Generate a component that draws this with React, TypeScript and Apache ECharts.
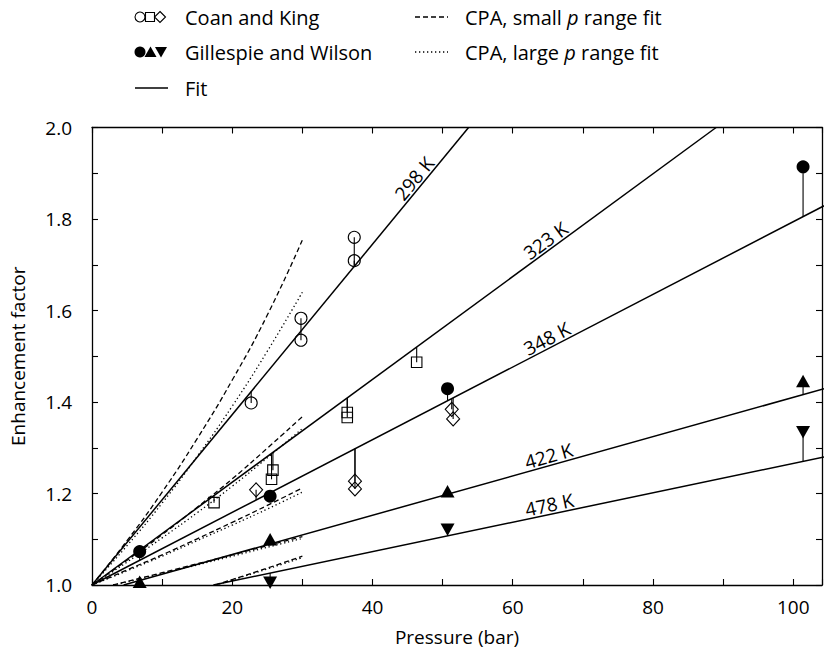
import React, { useEffect, useRef } from "react";
import * as echarts from "echarts";

// ---- Fit lines (solid) : [pressure, enhancement] end points
const fit298 = [[0, 1.0], [53.7, 2.0]];
const fit323 = [[0, 1.0], [89.0, 2.0]];
const fit348 = [[0, 1.0], [104.4, 1.829]];
const fit422 = [[4.5, 1.0], [104.4, 1.429]];
const fit478 = [[17.3, 1.0], [104.4, 1.28]];

// ---- CPA, small p range fit (dashed)
const cpaSmall298 = [[0, 1.0], [5, 1.097], [10, 1.203], [15, 1.32], [20, 1.448], [25, 1.59], [30, 1.754]];
const cpaSmall323 = [[0, 1.0], [5, 1.054], [10, 1.11], [15, 1.17], [20, 1.232], [25, 1.299], [30, 1.368]];
const cpaSmall348 = [[0, 1.0], [5, 1.033], [10, 1.066], [15, 1.101], [20, 1.137], [25, 1.174], [30, 1.212]];
const cpaSmall422 = [[3.0, 1.0], [10, 1.027], [20, 1.066], [30, 1.106]];
const cpaSmall478 = [[17.6, 1.0], [20, 1.012], [25, 1.037], [30, 1.063]];

// ---- CPA, large p range fit (dotted)
const cpaLarge298 = [[0, 1.0], [5, 1.086], [10, 1.179], [15, 1.281], [20, 1.391], [25, 1.511], [30, 1.64]];
const cpaLarge323 = [[0, 1.0], [5, 1.05], [10, 1.103], [15, 1.158], [20, 1.216], [25, 1.278], [30, 1.342]];
const cpaLarge348 = [[0, 1.0], [5, 1.031], [10, 1.063], [15, 1.097], [20, 1.131], [25, 1.166], [30, 1.203]];
const cpaLarge422 = [[3.0, 1.0], [10, 1.025], [20, 1.063], [30, 1.102]];
const cpaLarge478 = [[17.6, 1.0], [20, 1.011], [25, 1.035], [30, 1.06]];

// ---- Measurements
const ckCircles298 = [[22.7, 1.398], [29.8, 1.583], [29.8, 1.535], [37.4, 1.76], [37.4, 1.709]];
const ckSquares323 = [[17.4, 1.18], [25.6, 1.231], [25.8, 1.251], [36.4, 1.377], [36.4, 1.366], [46.3, 1.487]];
const ckDiamonds348 = [[23.4, 1.208], [37.5, 1.227], [37.5, 1.21], [51.3, 1.384], [51.5, 1.363]];
const gwCircles348 = [[6.8, 1.073], [25.4, 1.194], [50.7, 1.429], [101.4, 1.914]];
const gwUp422 = [[6.8, 1.007], [25.4, 1.1], [50.7, 1.205], [101.4, 1.446]];
const gwDown478 = [[25.4, 1.005], [50.7, 1.121], [101.4, 1.334]];

const tempLabels = ["298 K", "323 K", "348 K", "422 K", "478 K"];
const xTickLabels = [0, 20, 40, 60, 80, 100];
const yTickLabels = ["1.0", "1.2", "1.4", "1.6", "1.8", "2.0"];

const FONT = "Open Sans";

function fitAt(fit: number[][], x: number) {
  const [[x0, y0], [x1, y1]] = fit;
  return y0 + ((y1 - y0) * (x - x0)) / (x1 - x0);
}

export default function App() {
  const ref = useRef<HTMLDivElement>(null);
  useEffect(() => {
    if (!ref.current) return;
    const chart = echarts.init(ref.current, undefined, { renderer: "svg" });

    const fits = [fit298, fit323, fit348, fit422, fit478];
    const smalls = [cpaSmall298, cpaSmall323, cpaSmall348, cpaSmall422, cpaSmall478];
    const larges = [cpaLarge298, cpaLarge323, cpaLarge348, cpaLarge422, cpaLarge478];

    const pairs: [number[][], number[][]][] = [
      [ckCircles298, fit298],
      [ckSquares323, fit323],
      [ckDiamonds348, fit348],
      [gwCircles348, fit348],
      [gwUp422, fit422],
      [gwDown478, fit478],
    ];
    const stickData = pairs.flatMap(([pts, fit]) => pts.map(([x, y]) => [x, y, fitAt(fit, x)]));

    const black = "#000";
    const openStyle = { color: "rgba(0,0,0,0)", borderColor: black, borderWidth: 1.1, opacity: 1 };
    const filledStyle = { color: black, opacity: 1 };

    const baseX = {
      type: "value",
      min: 0,
      max: 104.1,
      interval: 10,
      splitLine: { show: false },
      axisLine: { onZero: false, lineStyle: { color: black, width: 1.3 } },
      axisTick: { inside: true, length: 6, lineStyle: { color: black, width: 1.1 } },
    };
    const baseY = {
      type: "value",
      min: 1,
      max: 2,
      interval: 0.1,
      splitLine: { show: false },
      axisLine: { onZero: false, lineStyle: { color: black, width: 1.3 } },
      axisTick: { inside: true, length: 6, lineStyle: { color: black, width: 1.1 } },
    };

    const legendY = [17, 52, 88];
    const graphicLegend: any[] = [
      { type: "circle", shape: { cx: 140, cy: legendY[0], r: 5 }, style: { fill: "none", stroke: black, lineWidth: 1.1 } },
      { type: "rect", shape: { x: 145.5, y: legendY[0] - 4.5, width: 9, height: 9 }, style: { fill: "none", stroke: black, lineWidth: 1.1 } },
      { type: "polygon", shape: { points: [[160, legendY[0] - 5.5], [165.5, legendY[0]], [160, legendY[0] + 5.5], [154.5, legendY[0]]] }, style: { fill: "none", stroke: black, lineWidth: 1.1 } },
      { type: "text", x: 185, y: legendY[0], style: { text: "Coan and King", font: `20px "${FONT}"`, fill: black, verticalAlign: "middle" } },
      { type: "circle", shape: { cx: 140, cy: legendY[1], r: 5.5 }, style: { fill: black } },
      { type: "polygon", shape: { points: [[150.5, legendY[1] - 5.5], [156.5, legendY[1] + 5], [144.5, legendY[1] + 5]] }, style: { fill: black } },
      { type: "polygon", shape: { points: [[161, legendY[1] + 5.5], [167, legendY[1] - 5], [155, legendY[1] - 5]] }, style: { fill: black } },
      { type: "text", x: 185, y: legendY[1], style: { text: "Gillespie and Wilson", font: `20px "${FONT}"`, fill: black, verticalAlign: "middle" } },
      { type: "line", shape: { x1: 135, y1: legendY[2], x2: 168, y2: legendY[2] }, style: { stroke: black, lineWidth: 1.4 } },
      { type: "text", x: 185, y: legendY[2], style: { text: "Fit", font: `20px "${FONT}"`, fill: black, verticalAlign: "middle" } },
      { type: "line", shape: { x1: 415, y1: legendY[0], x2: 448, y2: legendY[0] }, style: { stroke: black, lineWidth: 1.3, lineDash: [5, 3] } },
      {
        type: "text", x: 465, y: legendY[0],
        style: {
          text: "CPA, small {i|p} range fit", font: `20px "${FONT}"`, fill: black, verticalAlign: "middle",
          rich: { i: { fontStyle: "italic", fontSize: 20, fontFamily: FONT } },
        },
      },
      { type: "line", shape: { x1: 415, y1: legendY[1], x2: 448, y2: legendY[1] }, style: { stroke: black, lineWidth: 1.3, lineDash: [1.3, 2.7] } },
      {
        type: "text", x: 465, y: legendY[1],
        style: {
          text: "CPA, large {i|p} range fit", font: `20px "${FONT}"`, fill: black, verticalAlign: "middle",
          rich: { i: { fontStyle: "italic", fontSize: 20, fontFamily: FONT } },
        },
      },
    ];

    const series: any[] = [];
    fits.forEach((d) =>
      series.push({ type: "line", data: d, symbol: "none", lineStyle: { color: black, width: 1.5 }, silent: true, z: 2 })
    );
    smalls.forEach((d) =>
      series.push({ type: "line", data: d, symbol: "none", smooth: true, lineStyle: { color: black, width: 1.3, type: [5, 3] }, silent: true, z: 2 })
    );
    larges.forEach((d) =>
      series.push({ type: "line", data: d, symbol: "none", smooth: true, lineStyle: { color: black, width: 1.3, type: [1.3, 2.7] }, silent: true, z: 2 })
    );
    series.push({
      type: "custom",
      data: stickData,
      encode: { x: 0, y: [1, 2] },
      silent: true,
      z: 3,
      renderItem: (_p: any, api: any) => {
        const a = api.coord([api.value(0), api.value(1)]);
        const b = api.coord([api.value(0), api.value(2)]);
        return { type: "line", shape: { x1: a[0], y1: a[1], x2: b[0], y2: b[1] }, style: { stroke: black, lineWidth: 1.1 } };
      },
    });
    const sc = (data: number[][], symbol: string, size: any, style: any, rotate = 0) => ({
      type: "scatter", data, symbol, symbolSize: size, symbolRotate: rotate, itemStyle: style, silent: true, z: 4,
    });
    series.push(sc(ckCircles298, "circle", 12, openStyle));
    series.push(sc(ckSquares323, "rect", 10.5, openStyle));
    series.push(sc(ckDiamonds348, "diamond", [13, 14], openStyle));
    series.push(sc(gwCircles348, "circle", 13, filledStyle));
    series.push(sc(gwUp422, "triangle", [14, 12.5], filledStyle));
    series.push(sc(gwDown478, "triangle", [14, 12.5], filledStyle, 180));

    const option: any = {
      animation: false,
      textStyle: { fontFamily: FONT },
      grid: { left: 91, top: 127.5, width: 735, height: 457.5, containLabel: false },
      xAxis: [
        {
          ...baseX,
          position: "bottom",
          name: "Pressure (bar)",
          nameLocation: "middle",
          nameGap: 42,
          nameTextStyle: { fontSize: 19, color: black, fontFamily: FONT },
          axisLabel: {
            color: black, fontSize: 19, margin: 12, fontFamily: FONT,
            formatter: (v: number) => {
              const r = Math.round(v);
              return xTickLabels.includes(r) && Math.abs(v - r) < 1e-6 ? String(r) : "";
            },
          },
        },
        { ...baseX, position: "top", axisLabel: { show: false } },
      ],
      yAxis: [
        {
          ...baseY,
          position: "left",
          name: "Enhancement factor",
          nameLocation: "middle",
          nameGap: 65,
          nameTextStyle: { fontSize: 19, color: black, fontFamily: FONT },
          axisLabel: {
            color: black, fontSize: 19, margin: 20, fontFamily: FONT,
            formatter: (v: number) => {
              const s = v.toFixed(1);
              return yTickLabels.includes(s) ? s : "";
            },
          },
        },
        { ...baseY, position: "right", axisLabel: { show: false } },
      ],
      series,
      graphic: graphicLegend,
    };
    chart.setOption(option);

    // Temperature labels along each fit line
    const labelX = [47.0, 65.5, 65.5, 65.5, 65.5];
    const labels = fits.map((fit, i) => {
      const p0 = chart.convertToPixel({ gridIndex: 0 }, fit[0]) as number[];
      const p1 = chart.convertToPixel({ gridIndex: 0 }, fit[1]) as number[];
      const ang = Math.atan2(p0[1] - p1[1], p1[0] - p0[0]);
      const p = chart.convertToPixel({ gridIndex: 0 }, [labelX[i], fitAt(fit, labelX[i])]) as number[];
      return {
        type: "text",
        x: p[0],
        y: p[1],
        rotation: ang,
        z: 10,
        style: { text: tempLabels[i], font: `19px "${FONT}"`, fill: black, align: "center", verticalAlign: "bottom" },
      };
    });
    chart.setOption({ graphic: [...graphicLegend, ...labels] });

    return () => chart.dispose();
  }, []);
  return <div ref={ref} style={{ position: "fixed", left: 0, top: 0, width: 825, height: 663, background: "#fff" }} />;
}
